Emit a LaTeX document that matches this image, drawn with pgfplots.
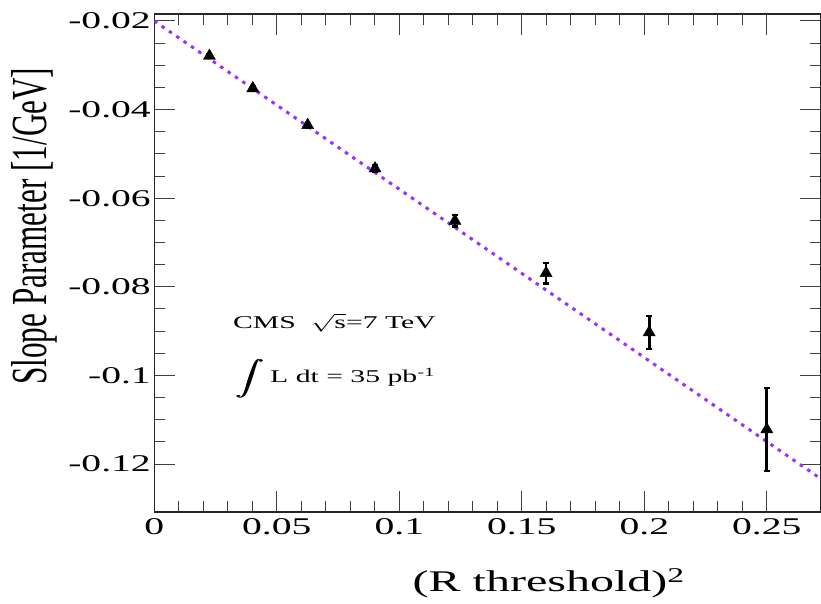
\documentclass[border=0pt]{standalone}
\usepackage{graphicx}
\usepackage{amsmath}
\usepackage{pgfplots}
\usepackage{pgfplotstable}
\pgfplotsset{compat=1.18}
\usepackage{fontspec}
\setmainfont{Liberation Serif}
\newfontfamily\wideserif[FakeStretch=1.65]{Liberation Serif}
\definecolor{fitpurple}{RGB}{155,48,255}
\newcommand{\boldint}{\makebox[0pt][l]{$\displaystyle\int$}\kern0.5pt\makebox[0pt][l]{$\displaystyle\int$}\kern0.5pt$\displaystyle\int$}

\pgfplotstableread{
x y e
0.0225 -0.0279 0.0003
0.0402 -0.0352 0.0004
0.0626 -0.0435 0.0005
0.0901 -0.0533 0.0007
0.1227 -0.0651 0.0013
0.1599 -0.0769 0.0023
0.2020 -0.0903 0.0037
0.2500 -0.1122 0.0094
}\slopedata

\begin{document}
\begin{tikzpicture}
\begin{axis}[name=ax, scale only axis, width=666.4pt, height=498pt,
  xmin=0, xmax=0.272, ymin=-0.13083, ymax=-0.01842,
  xtick={0,0.05,0.1,0.15,0.2,0.25},
  ytick={-0.12,-0.1,-0.08,-0.06,-0.04,-0.02},
  minor x tick num=4, minor y tick num=3,
  tick align=inside, xtick pos=both, ytick pos=both,
  major tick length=21pt, minor tick length=11pt,
  every tick/.style={black!75, line width=1pt},
  axis line style={line width=1.5pt, black!85},
  scaled x ticks=false, scaled y ticks=false,
  /pgf/number format/fixed, /pgf/number format/precision=3,
  /pgf/number format/assume math mode=true,
  ticklabel style={font=\wideserif\fontsize{24}{24}\selectfont},
  xticklabel style={yshift=-3pt},
  xlabel={\scalebox{1.6}[1]{\fontsize{30}{30}\selectfont (R threshold)\textsuperscript{2}}},
  xlabel style={at={(axis description cs:0.592,-0.1606)}, anchor=base},
  ylabel={\scalebox{1.05}[1.7]{\fontsize{29.7}{30}\selectfont Slope Parameter [1/GeV]}},
  ylabel style={at={(axis description cs:-0.1805,0.574)}, anchor=center},
]
\addplot[fitpurple, line width=3pt, dash pattern=on 3.5pt off 5.4pt] coordinates {(0,-0.0200) (0.272,-0.1233)};
\addplot[only marks, mark=triangle*, mark size=7pt, black,
  error bars/.cd, y dir=both, y explicit,
  error bar style={line width=2.8pt},
  error mark options={rotate=90, mark size=3pt, line width=2.5pt}]
  table[x=x, y=y, y error=e] {\slopedata};
\node[anchor=base west, inner sep=0pt] at (axis cs:0.0321,-0.0893)
  {\scalebox{1.65}[1]{\fontsize{18}{18}\selectfont CMS\ \ $\sqrt{\hbox{s}}$=7 TeV}};
\node[anchor=base west, inner sep=0pt] at (axis cs:0.0329,-0.1017)
  {\scalebox{1.65}[1]{\fontsize{18}{18}\selectfont \boldint\,L dt = 35 pb\textsuperscript{-1}}};
\end{axis}
\pgfresetboundingbox
\path ([shift={(-154.3pt,-91pt)}]ax.south west) rectangle ++(821pt,603pt);
\end{tikzpicture}
\end{document}
